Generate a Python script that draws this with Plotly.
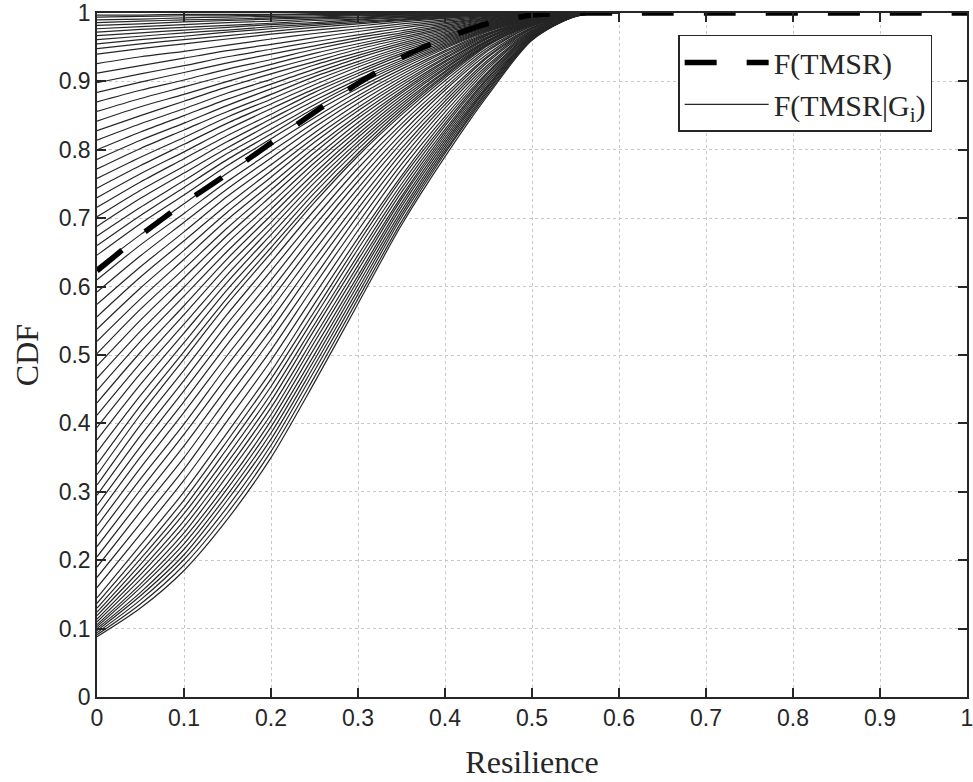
import plotly.graph_objects as go

# x positions at which the curves were read
xs = [0, 0.05, 0.10, 0.15, 0.20, 0.25, 0.30, 0.35, 0.40, 0.45, 0.50, 0.55, 0.60]

# F(TMSR) (thick dashed)
tmsr_x = [0, 0.05, 0.10, 0.15, 0.20, 0.25, 0.30, 0.35, 0.40, 0.45, 0.50, 0.55, 0.60, 1.0]
tmsr_y = [0.623, 0.675, 0.722, 0.765, 0.810, 0.855, 0.897, 0.935, 0.963, 0.985, 0.997, 1.0, 1.0, 1.0]

# F(TMSR|G_i) curves, grouped by starting level
band_curves = [
    [0.088, 0.130, 0.185, 0.260, 0.350, 0.460, 0.575, 0.690, 0.790, 0.881, 0.960, 0.995, 1.0],
    [0.091, 0.136, 0.193, 0.269, 0.359, 0.468, 0.582, 0.695, 0.795, 0.884, 0.961, 0.995, 1.0],
    [0.094, 0.142, 0.201, 0.278, 0.368, 0.477, 0.589, 0.701, 0.798, 0.887, 0.962, 0.995, 1.0],
    [0.097, 0.148, 0.208, 0.288, 0.377, 0.485, 0.596, 0.706, 0.802, 0.889, 0.962, 0.995, 1.0],
    [0.100, 0.153, 0.216, 0.296, 0.386, 0.493, 0.603, 0.711, 0.806, 0.892, 0.963, 0.996, 1.0],
    [0.103, 0.160, 0.224, 0.305, 0.395, 0.501, 0.610, 0.717, 0.810, 0.894, 0.964, 0.996, 1.0],
    [0.106, 0.165, 0.232, 0.313, 0.404, 0.510, 0.616, 0.722, 0.814, 0.896, 0.965, 0.996, 1.0],
    [0.110, 0.172, 0.240, 0.324, 0.413, 0.519, 0.624, 0.728, 0.818, 0.899, 0.965, 0.996, 1.0],
    [0.114, 0.179, 0.249, 0.333, 0.423, 0.527, 0.631, 0.732, 0.822, 0.902, 0.966, 0.996, 1.0],
    [0.119, 0.186, 0.258, 0.343, 0.433, 0.537, 0.639, 0.738, 0.826, 0.905, 0.967, 0.996, 1.0],
    [0.124, 0.194, 0.268, 0.353, 0.443, 0.545, 0.646, 0.744, 0.830, 0.907, 0.968, 0.996, 1.0],
    [0.130, 0.202, 0.277, 0.364, 0.454, 0.555, 0.655, 0.750, 0.835, 0.910, 0.969, 0.997, 1.0],
    [0.137, 0.211, 0.288, 0.375, 0.465, 0.564, 0.663, 0.757, 0.839, 0.913, 0.970, 0.997, 1.0],
    [0.145, 0.222, 0.300, 0.387, 0.476, 0.575, 0.671, 0.762, 0.844, 0.915, 0.971, 0.997, 1.0],
]

low_fan_curves = [
    [0.160, 0.238, 0.317, 0.404, 0.492, 0.588, 0.682, 0.771, 0.849, 0.919, 0.972, 0.997, 1.0],
    [0.175, 0.254, 0.333, 0.421, 0.507, 0.602, 0.693, 0.779, 0.855, 0.922, 0.973, 0.997, 1.0],
    [0.190, 0.271, 0.350, 0.437, 0.523, 0.614, 0.704, 0.787, 0.861, 0.925, 0.974, 0.997, 1.0],
    [0.205, 0.287, 0.367, 0.453, 0.537, 0.628, 0.714, 0.795, 0.866, 0.929, 0.975, 0.997, 1.0],
    [0.220, 0.303, 0.384, 0.469, 0.552, 0.640, 0.724, 0.802, 0.871, 0.932, 0.977, 0.997, 1.0],
    [0.235, 0.319, 0.399, 0.485, 0.567, 0.653, 0.735, 0.810, 0.876, 0.936, 0.977, 0.998, 1.0],
    [0.250, 0.335, 0.416, 0.500, 0.581, 0.665, 0.744, 0.817, 0.881, 0.938, 0.978, 0.998, 1.0],
    [0.265, 0.351, 0.432, 0.516, 0.595, 0.677, 0.754, 0.824, 0.887, 0.941, 0.979, 0.998, 1.0],
    [0.280, 0.366, 0.448, 0.531, 0.609, 0.689, 0.763, 0.832, 0.891, 0.945, 0.981, 0.998, 1.0],
    [0.295, 0.382, 0.463, 0.546, 0.623, 0.700, 0.773, 0.838, 0.896, 0.947, 0.981, 0.998, 1.0],
    [0.310, 0.398, 0.478, 0.560, 0.636, 0.712, 0.782, 0.845, 0.901, 0.950, 0.982, 0.998, 1.0],
    [0.325, 0.413, 0.494, 0.575, 0.649, 0.723, 0.791, 0.851, 0.905, 0.953, 0.983, 0.998, 1.0],
]

mid_curves = [
    [0.340, 0.426, 0.505, 0.584, 0.657, 0.729, 0.795, 0.855, 0.908, 0.954, 0.983, 0.998, 1.0],
    [0.358, 0.441, 0.518, 0.596, 0.666, 0.737, 0.801, 0.859, 0.910, 0.955, 0.984, 0.998, 1.0],
    [0.376, 0.457, 0.532, 0.607, 0.676, 0.744, 0.807, 0.863, 0.913, 0.956, 0.984, 0.998, 1.0],
    [0.394, 0.473, 0.545, 0.618, 0.685, 0.752, 0.812, 0.867, 0.915, 0.958, 0.985, 0.998, 1.0],
    [0.412, 0.488, 0.559, 0.630, 0.694, 0.759, 0.818, 0.871, 0.918, 0.959, 0.985, 0.998, 1.0],
    [0.430, 0.504, 0.572, 0.641, 0.704, 0.766, 0.823, 0.875, 0.920, 0.960, 0.986, 0.998, 1.0],
    [0.448, 0.520, 0.586, 0.652, 0.713, 0.774, 0.829, 0.879, 0.923, 0.961, 0.986, 0.998, 1.0],
    [0.466, 0.535, 0.599, 0.664, 0.722, 0.781, 0.834, 0.883, 0.925, 0.963, 0.987, 0.998, 1.0],
    [0.484, 0.551, 0.613, 0.675, 0.732, 0.788, 0.840, 0.886, 0.928, 0.964, 0.987, 0.998, 1.0],
    [0.502, 0.567, 0.626, 0.686, 0.741, 0.796, 0.846, 0.890, 0.930, 0.965, 0.988, 0.999, 1.0],
    [0.520, 0.582, 0.640, 0.698, 0.750, 0.803, 0.851, 0.894, 0.933, 0.966, 0.988, 0.999, 1.0],
    [0.538, 0.598, 0.653, 0.709, 0.760, 0.811, 0.857, 0.898, 0.935, 0.968, 0.988, 0.999, 1.0],
    [0.556, 0.614, 0.667, 0.720, 0.769, 0.818, 0.862, 0.902, 0.938, 0.969, 0.989, 0.999, 1.0],
    [0.574, 0.629, 0.680, 0.732, 0.778, 0.825, 0.868, 0.906, 0.940, 0.970, 0.989, 0.999, 1.0],
    [0.592, 0.645, 0.694, 0.743, 0.788, 0.833, 0.874, 0.910, 0.943, 0.971, 0.990, 0.999, 1.0],
    [0.610, 0.661, 0.707, 0.754, 0.797, 0.840, 0.879, 0.914, 0.945, 0.973, 0.990, 0.999, 1.0],
    [0.628, 0.676, 0.721, 0.766, 0.807, 0.847, 0.885, 0.918, 0.948, 0.974, 0.991, 0.999, 1.0],
    [0.646, 0.692, 0.734, 0.777, 0.816, 0.855, 0.890, 0.922, 0.950, 0.975, 0.991, 0.999, 1.0],
]

upper_curves = [
    [0.660, 0.704, 0.745, 0.786, 0.823, 0.861, 0.895, 0.925, 0.952, 0.976, 0.992, 0.999, 1.0],
    [0.674, 0.716, 0.755, 0.795, 0.830, 0.866, 0.899, 0.928, 0.954, 0.977, 0.992, 0.999, 1.0],
    [0.688, 0.729, 0.766, 0.803, 0.838, 0.872, 0.903, 0.931, 0.956, 0.978, 0.992, 0.999, 1.0],
    [0.702, 0.741, 0.776, 0.812, 0.845, 0.878, 0.908, 0.934, 0.958, 0.979, 0.993, 0.999, 1.0],
    [0.716, 0.753, 0.787, 0.821, 0.852, 0.884, 0.912, 0.938, 0.960, 0.980, 0.993, 0.999, 1.0],
    [0.730, 0.765, 0.797, 0.830, 0.860, 0.889, 0.916, 0.941, 0.962, 0.981, 0.993, 0.999, 1.0],
    [0.744, 0.777, 0.808, 0.839, 0.867, 0.895, 0.921, 0.944, 0.964, 0.982, 0.994, 0.999, 1.0],
    [0.758, 0.789, 0.818, 0.848, 0.874, 0.901, 0.925, 0.947, 0.966, 0.983, 0.994, 1.0, 1.0],
    [0.772, 0.802, 0.829, 0.856, 0.881, 0.907, 0.929, 0.950, 0.968, 0.984, 0.994, 1.0, 1.0],
    [0.786, 0.814, 0.839, 0.865, 0.889, 0.912, 0.934, 0.953, 0.970, 0.985, 0.995, 1.0, 1.0],
    [0.800, 0.826, 0.850, 0.874, 0.896, 0.918, 0.938, 0.956, 0.972, 0.986, 0.995, 1.0, 1.0],
    [0.814, 0.838, 0.860, 0.883, 0.903, 0.924, 0.942, 0.959, 0.974, 0.987, 0.995, 1.0, 1.0],
    [0.828, 0.850, 0.871, 0.892, 0.911, 0.929, 0.947, 0.962, 0.976, 0.988, 0.996, 1.0, 1.0],
    [0.842, 0.863, 0.881, 0.900, 0.918, 0.935, 0.951, 0.965, 0.978, 0.989, 0.996, 1.0, 1.0],
    [0.856, 0.875, 0.892, 0.909, 0.925, 0.941, 0.955, 0.968, 0.980, 0.990, 0.996, 1.0, 1.0],
    [0.870, 0.887, 0.902, 0.918, 0.932, 0.947, 0.960, 0.971, 0.982, 0.991, 0.997, 1.0, 1.0],
    [0.884, 0.899, 0.913, 0.927, 0.940, 0.952, 0.964, 0.974, 0.984, 0.992, 0.997, 1.0, 1.0],
    [0.898, 0.911, 0.923, 0.936, 0.947, 0.958, 0.968, 0.978, 0.986, 0.993, 0.997, 1.0, 1.0],
    [0.912, 0.923, 0.934, 0.945, 0.954, 0.964, 0.973, 0.981, 0.988, 0.994, 0.998, 1.0, 1.0],
    [0.926, 0.936, 0.944, 0.953, 0.962, 0.970, 0.977, 0.984, 0.990, 0.995, 0.998, 1.0, 1.0],
    [0.940, 0.948, 0.955, 0.962, 0.969, 0.975, 0.981, 0.987, 0.992, 0.996, 0.998, 1.0, 1.0],
]

top_curves = [
    [0.948, 0.955, 0.961, 0.967, 0.973, 0.979, 0.984, 0.989, 0.993, 0.996, 0.999, 1.0, 1.0],
    [0.955, 0.961, 0.966, 0.972, 0.977, 0.982, 0.986, 0.990, 0.994, 0.997, 0.999, 1.0, 1.0],
    [0.961, 0.966, 0.971, 0.975, 0.980, 0.984, 0.988, 0.991, 0.995, 0.997, 0.999, 1.0, 1.0],
    [0.967, 0.971, 0.975, 0.979, 0.983, 0.986, 0.990, 0.993, 0.995, 0.998, 0.999, 1.0, 1.0],
    [0.972, 0.976, 0.979, 0.982, 0.985, 0.989, 0.991, 0.994, 0.996, 0.998, 0.999, 1.0, 1.0],
    [0.977, 0.980, 0.983, 0.986, 0.988, 0.991, 0.993, 0.995, 0.997, 0.998, 0.999, 1.0, 1.0],
    [0.982, 0.984, 0.987, 0.989, 0.991, 0.993, 0.994, 0.996, 0.997, 0.999, 1.0, 1.0, 1.0],
    [0.986, 0.988, 0.990, 0.991, 0.993, 0.994, 0.996, 0.997, 0.998, 0.999, 1.0, 1.0, 1.0],
    [0.990, 0.991, 0.993, 0.994, 0.995, 0.996, 0.997, 0.998, 0.999, 0.999, 1.0, 1.0, 1.0],
    [0.994, 0.995, 0.996, 0.996, 0.997, 0.998, 0.998, 0.999, 0.999, 1.0, 1.0, 1.0, 1.0],
    [0.997, 0.997, 0.998, 0.998, 0.998, 0.999, 0.999, 0.999, 1.0, 1.0, 1.0, 1.0, 1.0],
]

tick_vals = [0, 0.1, 0.2, 0.3, 0.4, 0.5, 0.6, 0.7, 0.8, 0.9, 1]
tick_text = ["0", "0.1", "0.2", "0.3", "0.4", "0.5", "0.6", "0.7", "0.8", "0.9", "1"]

fig = go.Figure()

all_curves = band_curves + low_fan_curves + mid_curves + upper_curves + top_curves
for i, ys in enumerate(all_curves):
    fig.add_trace(go.Scatter(
        x=xs, y=ys, mode="lines",
        line=dict(color="#262626", width=1.2, shape="spline", smoothing=0.8),
        name="F(TMSR|G<sub>i</sub>)",
        legendgroup="cond", showlegend=(i == 0), legendrank=2,
        hoverinfo="skip",
    ))

fig.add_trace(go.Scatter(
    x=tmsr_x, y=tmsr_y, mode="lines",
    line=dict(color="black", width=5.5, dash="32px,30px", shape="spline", smoothing=0.6),
    name="F(TMSR)", legendrank=1, hoverinfo="skip",
))

axis_common = dict(
    range=[0, 1], tickvals=tick_vals, ticktext=tick_text,
    ticks="inside", ticklen=9, tickwidth=1.5, tickcolor="#262626",
    mirror="allticks", showline=True, linecolor="#262626", linewidth=1.5,
    showgrid=True, gridcolor="#c8c8c8", griddash="dot", gridwidth=1,
    zeroline=False, automargin=False, ticklabeloverflow="allow",
    tickfont=dict(family="Liberation Sans, Arial, sans-serif", size=23, color="#262626"),
)

fig.update_layout(
    width=973, height=782,
    margin=dict(l=97, r=6, t=13, b=85),
    paper_bgcolor="white", plot_bgcolor="white",
    xaxis=dict(**axis_common,
               title=dict(text="Resilience", standoff=20,
                          font=dict(family="Liberation Serif, Times New Roman, serif", size=32, color="#262626"))),
    yaxis=dict(**axis_common,
               title=dict(text="CDF", standoff=10,
                          font=dict(family="Liberation Serif, Times New Roman, serif", size=32, color="#262626"))),
    legend=dict(
        x=0.668, y=0.968, xanchor="left", yanchor="top",
        bgcolor="white", bordercolor="#262626", borderwidth=1.5,
        font=dict(family="Liberation Serif, Times New Roman, serif", size=30, color="#262626"),
        itemwidth=84, tracegroupgap=0,
    ),
    showlegend=True,
)

fig.write_html("out.html")
